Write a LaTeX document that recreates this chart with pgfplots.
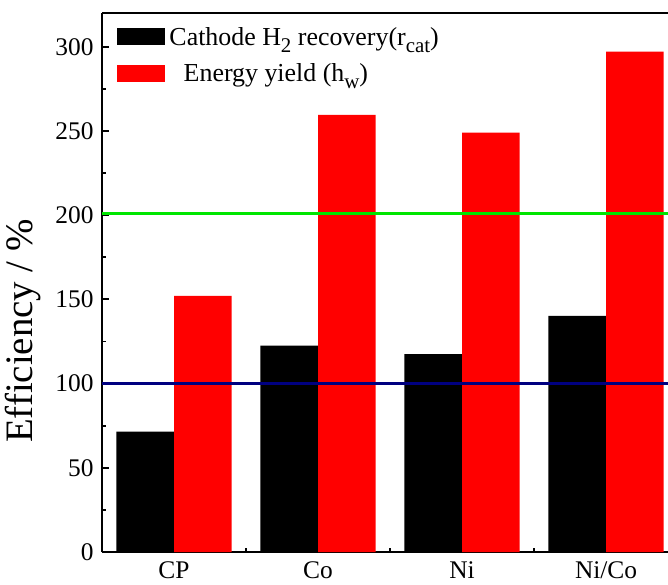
\documentclass[border=0pt]{standalone}
\usepackage{fontspec}
\setmainfont{Liberation Serif}
\usepackage{pgfplots}
\pgfplotsset{compat=1.18}
\definecolor{navyline}{RGB}{0,0,128}
\definecolor{greenline}{RGB}{0,230,0}
\newcommand\sub[1]{\raisebox{-0.28em}{\fontsize{21}{22}\selectfont #1}}
\begin{document}
\begin{tikzpicture}
\useasboundingbox (0bp,0bp) rectangle (668bp,585bp);
\begin{axis}[
  at={(102bp,33bp)}, anchor=south west,
  scale only axis, width=566bp, height=539bp,
  xmin=-0.5, xmax=3.43, ymin=0, ymax=320,
  axis x line*=box, axis y line*=left,
  axis line style={line width=2.2bp},
  xtick={0,1,2,3}, xticklabels={CP,Co,Ni,Ni/Co},
  minor xtick={0.5,1.5,2.5},
  xtick pos=bottom,
  major x tick style={draw=none},
  minor x tick style={line width=1.5bp, black},
  minor tick length=4bp, major tick length=7bp,
  ytick={0,50,...,300}, minor ytick={25,75,...,325},
  y tick style={line width=1.8bp, black},
  tick align=inside,
  ytick pos=left,
  /pgf/number format/assume math mode=true,
  tick label style={font=\fontsize{25.5}{28}\selectfont},
  xticklabel style={yshift=-6bp},
  yticklabel style={xshift=-5bp},
  ylabel={Efficiency / \%},
  ylabel style={font=\fontsize{39}{42}\selectfont, at={(axis description cs:-0.14,0.41)}, anchor=center},
  legend style={draw=none, fill=none, at={(axis description cs:0.027,0.978)}, anchor=north west,
    font=\fontsize{26}{29}\selectfont, row sep=13bp, inner sep=0pt, legend cell align=left,
    nodes={inner xsep=4bp}},
  legend image code/.code={\fill[#1] (0bp,-8.5bp) rectangle (48bp,8.5bp);},
  clip=false,
]
\addplot[ybar, bar width=0.4, bar shift=-0.2, fill=black, draw=none] coordinates {(0,71.5) (1,122.5) (2,117.5) (3,140.2)};
\addlegendentry{Cathode H\sub{2} recovery(r\sub{cat})}
\addplot[ybar, bar width=0.4, bar shift=0.2, fill=red, draw=none] coordinates {(0,152) (1,259.5) (2,249) (3,297)};
\addlegendentry{\hspace{0.55em}Energy yield (h\sub{w})}
\addplot[greenline, line width=2.2bp, forget plot] coordinates {(-0.5,201) (3.43,201)};
\addplot[navyline, line width=2.2bp, forget plot] coordinates {(-0.5,100) (3.43,100)};
\end{axis}
\end{tikzpicture}
\end{document}
